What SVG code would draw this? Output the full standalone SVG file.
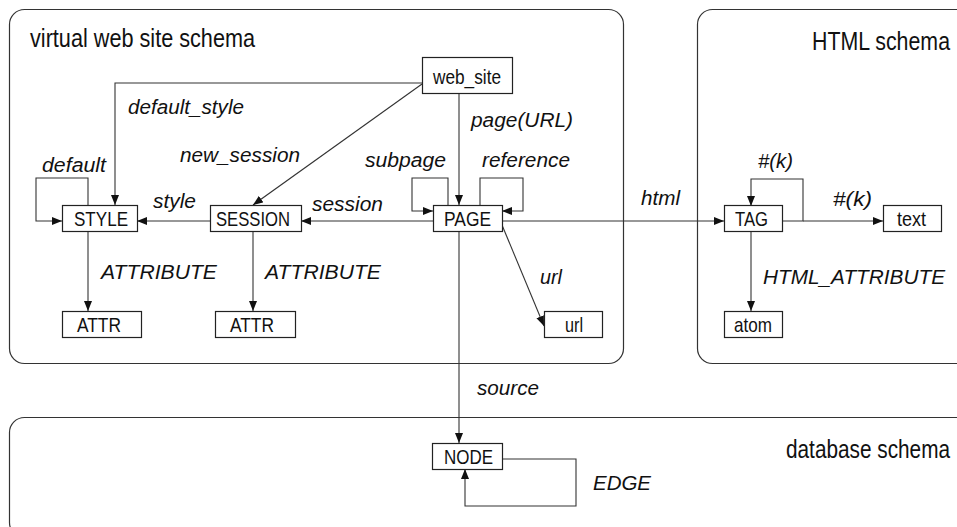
<svg xmlns="http://www.w3.org/2000/svg" width="957" height="527" viewBox="0 0 957 527">
<style>
.cont{fill:none;stroke:#333;stroke-width:1.2}
.box{fill:#fff;stroke:#222;stroke-width:1.2}
.edge{fill:none;stroke:#333;stroke-width:1.1}
.nl{font-family:"Liberation Sans",Arial,sans-serif;font-size:21px;fill:#111}
.el{font-family:"Liberation Sans",Arial,sans-serif;font-size:20px;font-style:italic;fill:#111}
.tl{font-family:"Liberation Sans",Arial,sans-serif;font-size:25px;fill:#111}
</style>
<defs>
<marker id="arr" markerUnits="userSpaceOnUse" markerWidth="11" markerHeight="9" refX="10" refY="4" orient="auto">
<path d="M0,0 L10,4 L0,8 z" fill="#111"/>
</marker>
</defs>
<rect width="957" height="527" fill="#fff"/>
<g id="containers">
<g id="virtual-web-site-schema">
<rect class="cont" x="9.5" y="9.5" width="614" height="354" rx="15"/>
<text class="tl" x="30" y="47" textLength="225" lengthAdjust="spacingAndGlyphs">virtual web site schema</text>
</g>
<g id="html-schema">
<rect class="cont" x="697.5" y="9.5" width="300" height="354" rx="15"/>
<text class="tl" x="812" y="50" textLength="138" lengthAdjust="spacingAndGlyphs">HTML schema</text>
</g>
<g id="database-schema">
<rect class="cont" x="9.5" y="417.5" width="990" height="120" rx="15"/>
<text class="tl" x="786" y="458" textLength="164" lengthAdjust="spacingAndGlyphs">database schema</text>
</g>
</g>
<g id="connectors">
<path class="edge" d="M422,83 H115 V205" marker-end="url(#arr)"/>
<path class="edge" d="M422,84 L253,205" marker-end="url(#arr)"/>
<path class="edge" d="M88,205 V178 H36 V221 H62" marker-end="url(#arr)"/>
<path class="edge" d="M210,221 H137" marker-end="url(#arr)"/>
<path class="edge" d="M433,221 H301" marker-end="url(#arr)"/>
<path class="edge" d="M88,231 V311" marker-end="url(#arr)"/>
<path class="edge" d="M253,231 V311" marker-end="url(#arr)"/>
<path class="edge" d="M459,94 V205" marker-end="url(#arr)"/>
<path class="edge" d="M448,205 V178 H412 V211 H433" marker-end="url(#arr)"/>
<path class="edge" d="M480,205 V178 H523 V211 H502" marker-end="url(#arr)"/>
<path class="edge" d="M502,221 H724" marker-end="url(#arr)"/>
<path class="edge" d="M502,225 L544,326" marker-end="url(#arr)"/>
<path class="edge" d="M459,231 V443" marker-end="url(#arr)"/>
<path class="edge" d="M502,459 H576 V506 H465 V469" marker-end="url(#arr)"/>
<path class="edge" d="M782,221 H803 V179 H751 V206" marker-end="url(#arr)"/>
<path class="edge" d="M803,221 H883" marker-end="url(#arr)"/>
<path class="edge" d="M751,231 V311" marker-end="url(#arr)"/>
<text class="el" x="128" y="114" textLength="116" lengthAdjust="spacingAndGlyphs">default_style</text>
<text class="el" x="180" y="162" textLength="120" lengthAdjust="spacingAndGlyphs">new_session</text>
<text class="el" x="42" y="172" textLength="64" lengthAdjust="spacingAndGlyphs">default</text>
<text class="el" x="153" y="208" textLength="43" lengthAdjust="spacingAndGlyphs">style</text>
<text class="el" x="312" y="211" textLength="71" lengthAdjust="spacingAndGlyphs">session</text>
<text class="el" x="471" y="127" textLength="102" lengthAdjust="spacingAndGlyphs">page(URL)</text>
<text class="el" x="365" y="167" textLength="81" lengthAdjust="spacingAndGlyphs">subpage</text>
<text class="el" x="482" y="167" textLength="88" lengthAdjust="spacingAndGlyphs">reference</text>
<text class="el" x="641" y="205" textLength="39" lengthAdjust="spacingAndGlyphs">html</text>
<text class="el" x="540" y="284" textLength="22" lengthAdjust="spacingAndGlyphs">url</text>
<text class="el" x="101" y="279" textLength="116" lengthAdjust="spacingAndGlyphs">ATTRIBUTE</text>
<text class="el" x="265" y="279" textLength="116" lengthAdjust="spacingAndGlyphs">ATTRIBUTE</text>
<text class="el" x="763" y="284" textLength="182" lengthAdjust="spacingAndGlyphs">HTML_ATTRIBUTE</text>
<text class="el" x="758" y="168" textLength="35" lengthAdjust="spacingAndGlyphs">#(k)</text>
<text class="el" x="833" y="206" textLength="39" lengthAdjust="spacingAndGlyphs">#(k)</text>
<text class="el" x="477" y="395" textLength="62" lengthAdjust="spacingAndGlyphs">source</text>
<text class="el" x="593" y="490" textLength="58" lengthAdjust="spacingAndGlyphs">EDGE</text>
</g>
<g id="web_site"><rect class="box" x="422.5" y="57.5" width="90" height="36"/><text class="nl" x="433" y="84" textLength="68" lengthAdjust="spacingAndGlyphs">web_site</text></g>
<g id="STYLE"><rect class="box" x="62.5" y="205.5" width="75" height="26"/><text class="nl" x="74" y="226" textLength="54" lengthAdjust="spacingAndGlyphs">STYLE</text></g>
<g id="SESSION"><rect class="box" x="210.5" y="205.5" width="91" height="26"/><text class="nl" x="216" y="226" textLength="74" lengthAdjust="spacingAndGlyphs">SESSION</text></g>
<g id="PAGE"><rect class="box" x="433.5" y="205.5" width="69" height="26"/><text class="nl" x="444" y="226" textLength="47" lengthAdjust="spacingAndGlyphs">PAGE</text></g>
<g id="ATTR1"><rect class="box" x="62.5" y="311.5" width="79" height="26"/><text class="nl" x="77" y="332" textLength="44" lengthAdjust="spacingAndGlyphs">ATTR</text></g>
<g id="ATTR2"><rect class="box" x="215.5" y="311.5" width="80" height="26"/><text class="nl" x="230" y="332" textLength="44" lengthAdjust="spacingAndGlyphs">ATTR</text></g>
<g id="url"><rect class="box" x="544.5" y="311.5" width="58" height="26"/><text class="nl" x="565" y="332" textLength="18" lengthAdjust="spacingAndGlyphs">url</text></g>
<g id="TAG"><rect class="box" x="724.5" y="205.5" width="58" height="26"/><text class="nl" x="735" y="226" textLength="33" lengthAdjust="spacingAndGlyphs">TAG</text></g>
<g id="text"><rect class="box" x="883.5" y="205.5" width="58" height="26"/><text class="nl" x="897" y="226" textLength="29" lengthAdjust="spacingAndGlyphs">text</text></g>
<g id="atom"><rect class="box" x="724.5" y="311.5" width="58" height="26"/><text class="nl" x="734" y="332" textLength="38" lengthAdjust="spacingAndGlyphs">atom</text></g>
<g id="NODE"><rect class="box" x="432.5" y="443.5" width="70" height="26"/><text class="nl" x="444" y="464" textLength="49" lengthAdjust="spacingAndGlyphs">NODE</text></g>
</svg>
